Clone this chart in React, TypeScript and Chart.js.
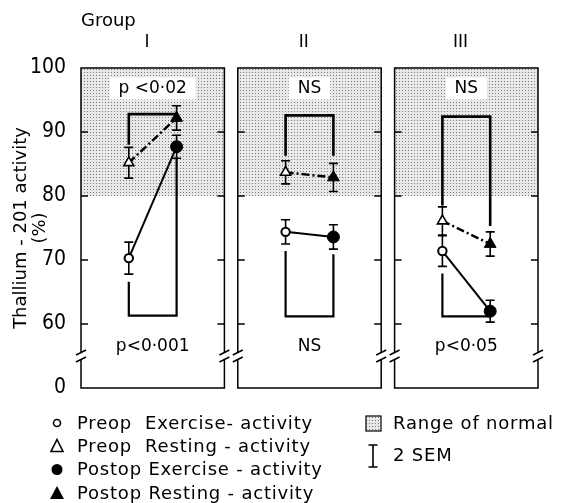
import React, { useEffect, useRef } from 'react';
import { Chart, registerables } from 'chart.js';

Chart.register(...registerables);

// ---------- data ----------
const groups = ['I', 'II', 'III'];

const preopExercise = [70.3, 74.4, 71.4];
const preopExerciseSem2 = [2.5, 1.9, 2.4];
const preopResting = [85.2, 83.7, 76.1];
const preopRestingSem2 = [2.4, 1.8, 2.2];
const postopExercise = [87.7, 73.6, 62.0];
const postopExerciseSem2 = [1.8, 1.9, 1.7];
const postopResting = [92.2, 82.9, 72.5];
const postopRestingSem2 = [1.9, 2.2, 1.9];

// bracket: [preop end, bracket level, postop end]
const restingBracket = [
  [88.0, 92.8, 92.2],
  [86.3, 92.6, 86.3],
  [78.5, 92.4, 75.3],
];
const exerciseBracket = [
  [66.6, 61.3, 86.0],
  [71.4, 61.2, 70.9],
  [67.9, 61.2, 62.0],
];
const restingP = ['p <0·02', 'NS', 'NS'];
const exerciseP = ['p<0·001', 'NS', 'p<0·05'];

const yTickValues = [50, 60, 70, 80, 90, 100];
const yTickLabels = ['0', '60', '70', '80', '90', '100'];
const normalRange = [80, 100];
const axisBreak = 55;

const legendItems = [
  'Preop  Exercise- activity',
  'Preop  Resting - activity',
  'Postop Exercise - activity',
  'Postop Resting - activity',
];

// ---------- layout constants ----------
const STRIDE = 3.28;
const PANEL_W = 3;
const X_MAX = STRIDE * 2 + PANEL_W;
const px = (g: number, k: number) => g * STRIDE + 1 + k;
const GROUP_LABEL_OFFSET = 1.38;
const TOP_LABEL_Y = 96.8;
const BOTTOM_LABEL_Y = 56.4;
const FONT = "'DejaVu Sans', sans-serif";
const NUM_FONT = "'Liberation Sans Narrow', 'DejaVu Sans Condensed', 'Liberation Sans', sans-serif";

export default function App() {
  const ref = useRef<HTMLCanvasElement>(null);

  useEffect(() => {
    const canvas = ref.current!;
    const ctx0 = canvas.getContext('2d')!;
    const pc = document.createElement('canvas');
    pc.width = 3;
    pc.height = 3;
    const pctx = pc.getContext('2d')!;
    pctx.fillStyle = '#e8e8e8';
    pctx.fillRect(0, 0, 3, 3);
    pctx.fillStyle = '#7a7a7a';
    pctx.fillRect(0, 0, 1, 1);
    const stipple = ctx0.createPattern(pc, 'repeat')!;

    const datasets: any[] = [];
    for (let g = 0; g < 3; g++) {
      datasets.push({
        label: 'Exercise ' + groups[g],
        data: [
          { x: px(g, 0), y: preopExercise[g] },
          { x: px(g, 1), y: postopExercise[g] },
        ],
        borderColor: '#000',
        borderWidth: 2,
        pointStyle: 'circle',
        pointRadius: [4.2, 6],
        pointBorderWidth: [2, 1],
        pointBackgroundColor: ['#fff', '#000'],
        pointBorderColor: '#000',
        order: 1,
      });
      datasets.push({
        label: 'Resting ' + groups[g],
        data: [
          { x: px(g, 0), y: preopResting[g] },
          { x: px(g, 1), y: postopResting[g] },
        ],
        borderColor: '#000',
        borderWidth: 2.5,
        borderDash: [8, 3, 2, 3],
        pointStyle: 'triangle',
        pointRadius: [5.8, 6.8],
        pointBorderWidth: [1.6, 1],
        pointBackgroundColor: ['#fff', '#000'],
        pointBorderColor: '#000',
        order: 1,
      });
      const rb = restingBracket[g];
      datasets.push({
        label: 'Resting bracket ' + groups[g],
        data: [
          { x: px(g, 0), y: rb[0] },
          { x: px(g, 0), y: rb[1] },
          { x: px(g, 1), y: rb[1] },
          { x: px(g, 1), y: rb[2] },
        ],
        borderColor: '#000',
        borderWidth: 2.6,
        pointRadius: 0,
        borderJoinStyle: 'miter',
        order: 3,
      });
      const eb = exerciseBracket[g];
      datasets.push({
        label: 'Exercise bracket ' + groups[g],
        data: [
          { x: px(g, 0), y: eb[0] },
          { x: px(g, 0), y: eb[1] },
          { x: px(g, 1), y: eb[1] },
          { x: px(g, 1), y: eb[2] },
        ],
        borderColor: '#000',
        borderWidth: 2.2,
        pointRadius: 0,
        borderJoinStyle: 'miter',
        order: 3,
      });
    }

    const panelPlugin = {
      id: 'panels',
      beforeDatasetsDraw(chart: any) {
        const { ctx, scales } = chart;
        const x = scales.x;
        const y = scales.y;
        ctx.save();
        for (let g = 0; g < 3; g++) {
          const l = x.getPixelForValue(g * STRIDE);
          const r = x.getPixelForValue(g * STRIDE + PANEL_W);
          const t = y.getPixelForValue(100);
          const b = y.getPixelForValue(50);
          const sTop = y.getPixelForValue(normalRange[1]);
          const sBot = y.getPixelForValue(normalRange[0]);
          ctx.fillStyle = stipple;
          ctx.fillRect(l, sTop, r - l, sBot - sTop);

          const cx = x.getPixelForValue(g * STRIDE + PANEL_W / 2);
          const ty = y.getPixelForValue(TOP_LABEL_Y);
          ctx.font = `17px ${FONT}`;
          const w = ctx.measureText(restingP[g]).width;
          ctx.fillStyle = '#fff';
          ctx.fillRect(cx - w / 2 - 9, ty - 11, w + 18, 22);
          ctx.fillStyle = '#000';
          ctx.textAlign = 'center';
          ctx.textBaseline = 'middle';
          ctx.fillText(restingP[g], cx, ty);
          ctx.fillText(exerciseP[g], cx, y.getPixelForValue(BOTTOM_LABEL_Y));

          const by = y.getPixelForValue(axisBreak);
          ctx.strokeStyle = '#000';
          ctx.lineWidth = 1.5;
          ctx.beginPath();
          ctx.moveTo(l, by - 3.5);
          ctx.lineTo(l, t);
          ctx.lineTo(r, t);
          ctx.lineTo(r, by - 3.5);
          ctx.moveTo(l, by + 3.5);
          ctx.lineTo(l, b);
          ctx.lineTo(r, b);
          ctx.lineTo(r, by + 3.5);
          for (const ex of [l, r]) {
            ctx.moveTo(ex - 5, by - 1);
            ctx.lineTo(ex + 5, by - 6);
            ctx.moveTo(ex - 5, by + 6);
            ctx.lineTo(ex + 5, by + 1);
          }
          for (const v of [60, 70, 80, 90]) {
            const yy = y.getPixelForValue(v);
            ctx.moveTo(l, yy);
            ctx.lineTo(l + 7, yy);
            ctx.moveTo(r, yy);
            ctx.lineTo(r - 7, yy);
          }
          ctx.stroke();
        }

        // 2 SEM error bars
        const series: [number[], number[], number][] = [
          [preopExercise, preopExerciseSem2, 0],
          [preopResting, preopRestingSem2, 0],
          [postopExercise, postopExerciseSem2, 1],
          [postopResting, postopRestingSem2, 1],
        ];
        ctx.lineWidth = 1.6;
        ctx.beginPath();
        for (const [vals, errs, k] of series) {
          for (let g = 0; g < 3; g++) {
            const xx = x.getPixelForValue(px(g, k));
            const y1 = y.getPixelForValue(vals[g] + errs[g]);
            const y2 = y.getPixelForValue(vals[g] - errs[g]);
            ctx.moveTo(xx, y1);
            ctx.lineTo(xx, y2);
            ctx.moveTo(xx - 4.5, y1);
            ctx.lineTo(xx + 4.5, y1);
            ctx.moveTo(xx - 4.5, y2);
            ctx.lineTo(xx + 4.5, y2);
          }
        }
        ctx.stroke();
        ctx.restore();
      },
      afterDraw(chart: any) {
        const { ctx } = chart;
        ctx.save();
        ctx.fillStyle = '#000';
        ctx.strokeStyle = '#000';
        ctx.textAlign = 'left';
        ctx.textBaseline = 'middle';
        ctx.font = `18px ${FONT}`;
        (ctx as any).letterSpacing = '0.8px';
        const rows = [423, 446, 469.5, 493];
        const mx = 57;
        legendItems.forEach((txt, i) => {
          const yy = rows[i];
          ctx.lineWidth = 1.6;
          ctx.beginPath();
          if (i === 0) {
            ctx.arc(mx, yy, 3.5, 0, Math.PI * 2);
            ctx.stroke();
          } else if (i === 1) {
            ctx.moveTo(mx, yy - 6.5);
            ctx.lineTo(mx + 6, yy + 5.5);
            ctx.lineTo(mx - 6, yy + 5.5);
            ctx.closePath();
            ctx.stroke();
          } else if (i === 2) {
            ctx.arc(mx, yy, 5.5, 0, Math.PI * 2);
            ctx.fill();
          } else {
            ctx.moveTo(mx, yy - 7);
            ctx.lineTo(mx + 7, yy + 6);
            ctx.lineTo(mx - 7, yy + 6);
            ctx.closePath();
            ctx.fill();
          }
          ctx.fillText(txt, 77, yy + 1);
        });
        // Range of normal
        ctx.fillStyle = stipple;
        ctx.fillRect(366, 416, 15, 15);
        ctx.lineWidth = 1.2;
        ctx.strokeRect(366, 416, 15, 15);
        ctx.fillStyle = '#000';
        ctx.fillText('Range of normal', 393, 424);
        // 2 SEM
        ctx.lineWidth = 1.6;
        ctx.beginPath();
        ctx.moveTo(373, 445);
        ctx.lineTo(373, 467);
        ctx.moveTo(368.5, 445);
        ctx.lineTo(377.5, 445);
        ctx.moveTo(368.5, 467);
        ctx.lineTo(377.5, 467);
        ctx.stroke();
        ctx.fillText('2 SEM', 393, 456);
        ctx.restore();
      },
    };

    const chart = new Chart(canvas, {
      type: 'line',
      data: { datasets },
      options: {
        responsive: false,
        animation: false,
        layout: { padding: { left: 0, top: 0, right: 23, bottom: 115 } },
        plugins: { legend: { display: false }, tooltip: { enabled: false } },
        scales: {
          x: { type: 'linear', display: false, min: 0, max: X_MAX },
          x2: {
            type: 'linear',
            position: 'top',
            min: 0,
            max: X_MAX,
            afterBuildTicks: (s: any) => {
              s.ticks = groups.map((_, g) => ({ value: g * STRIDE + GROUP_LABEL_OFFSET }));
            },
            afterFit: (s: any) => {
              s.height = 68;
            },
            grid: { display: false, drawTicks: false },
            border: { display: false },
            ticks: {
              color: '#000',
              padding: 15,
              maxRotation: 0,
              autoSkip: false,
              font: { family: FONT, size: 17 },
              callback: (_v: any, i: number) => groups[i],
            },
            title: {
              display: true,
              text: 'Group',
              align: 'start',
              color: '#000',
              font: { family: FONT, size: 18, lineHeight: 1.2 },
              padding: { top: 11, bottom: 0 },
            },
          },
          y: {
            type: 'linear',
            min: 50,
            max: 100,
            afterBuildTicks: (s: any) => {
              s.ticks = yTickValues.map((v) => ({ value: v }));
            },
            afterFit: (s: any) => {
              s.width = 81;
            },
            grid: { display: false, drawTicks: false },
            border: { display: false },
            ticks: {
              color: '#000',
              padding: 15,
              font: { family: NUM_FONT, size: 21 },
              callback: (_v: any, i: number) => yTickLabels[i],
            },
            title: {
              display: true,
              text: ['Thallium - 201 activity', '(%)'],
              color: '#000',
              font: { family: FONT, size: 18, lineHeight: 1.05 },
              padding: { top: 12, bottom: 0 },
            },
          },
        },
      } as any,
      plugins: [panelPlugin],
    });
    return () => chart.destroy();
  }, []);

  return (
    <div style={{ position: 'absolute', left: 0, top: 0, width: 561, height: 503, background: '#fff' }}>
      <canvas ref={ref} width={561} height={503} style={{ display: 'block', width: 561, height: 503 }} />
    </div>
  );
}
